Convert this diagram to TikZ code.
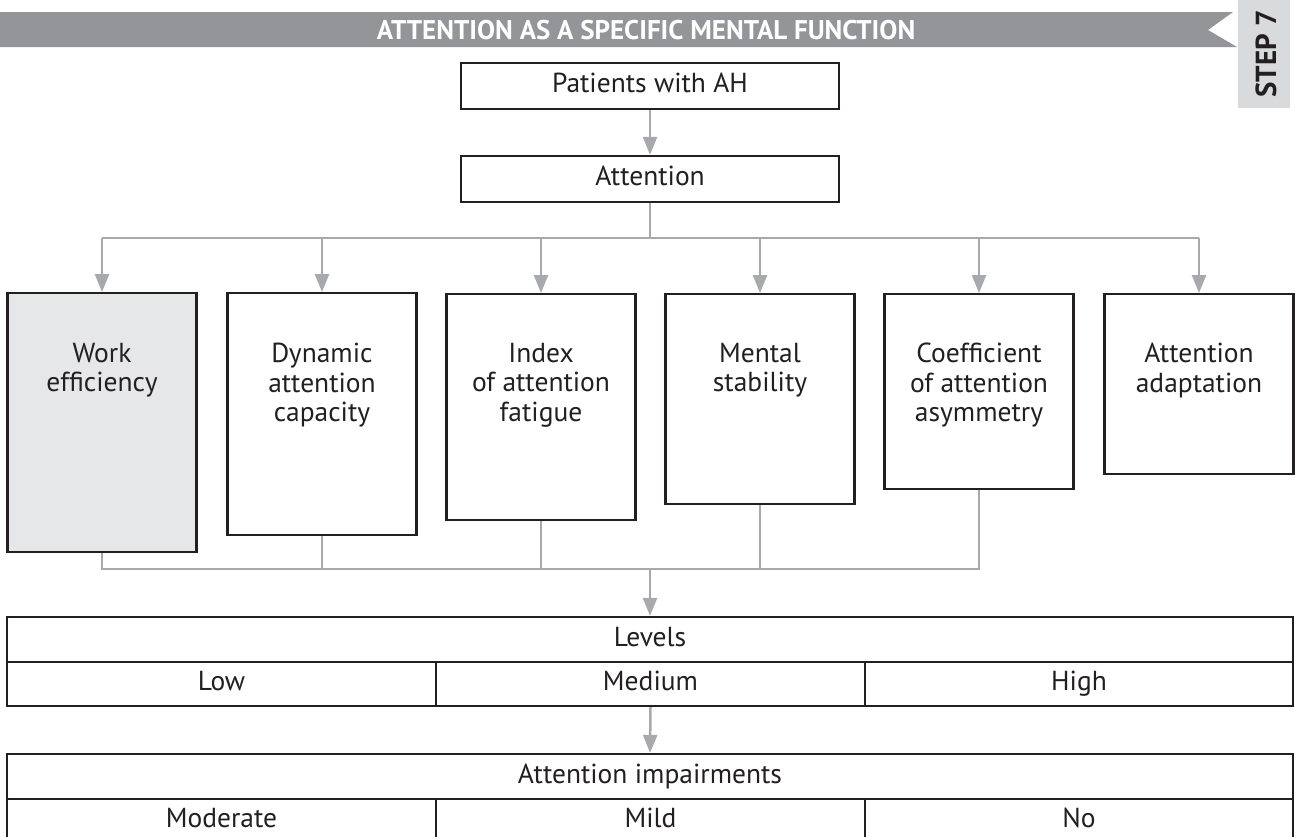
\documentclass[tikz,border=0pt]{standalone}
\usepackage{fontspec}
\setmainfont{PT Sans}
\usetikzlibrary{arrows.meta}

\definecolor{bargray}{HTML}{939598}
\definecolor{tabgray}{HTML}{D9DADB}
\definecolor{linegray}{HTML}{A7A9AC}
\definecolor{boxfill}{HTML}{E6E7E8}
\definecolor{ink}{HTML}{231F20}

\newcommand{\bodyfont}{\fontsize{27.5}{29.5}\selectfont}

\tikzset{
  box/.style={draw=ink, line width=2.2pt, minimum width=189pt, inner sep=0pt, anchor=north},
  boxtext/.style={text=ink, font=\bodyfont, align=center, anchor=north, inner sep=0pt},
  conn/.style={draw=linegray, line width=2.5pt},
  arr/.style={conn, -{Triangle[width=14pt,length=18pt]}},
  cell/.style={draw=ink, line width=2.2pt, inner sep=0pt, text=ink,
    font=\bodyfont, text height=19pt, text depth=6pt},
  topbox/.style={draw=ink, line width=2.2pt, minimum width=378pt, minimum height=46pt,
    inner sep=0pt, text=ink, font=\bodyfont, text height=19pt, text depth=6pt},
}

\begin{document}
\begin{tikzpicture}[x=1pt,y=-1pt]
  \path[use as bounding box] (0,0) rectangle (1295,836);
  \clip (0,0) rectangle (1295,836);

  % title bar with notched right end
  \fill[bargray] (0,12) -- (1233,12) -- (1208,30) -- (1237,47) -- (0,47) -- cycle;
  \node[text=white, font=\bfseries\fontsize{27}{27}\selectfont] (title) at (646,30)
    {ATTENTION AS A SPECIFIC MENTAL FUNCTION};

  % step tab
  \fill[tabgray] (1238,0) rectangle (1290,108);
  \node[rotate=90, text=ink, font=\bfseries\fontsize{29}{29}\selectfont] (step) at (1266,54) {STEP 7};

  % top chain
  \node[topbox] (pat) at (650,86) {Patients with AH};
  \node[topbox] (att) at (650,179) {Attention};
  \draw[arr] (pat) -- (att);

  % indicator boxes
  \node[box, fill=boxfill, minimum height=259pt] (b1) at (102,292) {};
  \node[box, minimum height=242pt] (b2) at (322,292) {};
  \node[box, minimum height=226pt] (b3) at (541,293) {};
  \node[box, minimum height=210pt] (b4) at (760,293) {};
  \node[box, minimum height=195pt] (b5) at (979,293) {};
  \node[box, minimum height=180pt] (b6) at (1199,293) {};

  \node[boxtext] (t1) at (102,343) {Work\\efficiency};
  \node[boxtext] (t2) at (322,343) {Dynamic\\attention\\capacity};
  \node[boxtext] (t3) at (541,343) {Index\\of attention\\fatigue};
  \node[boxtext] (t4) at (760,343) {Mental\\stability};
  \node[boxtext] (t5) at (979,343) {Coefficient\\of attention\\asymmetry};
  \node[boxtext] (t6) at (1199,343) {Attention\\adaptation};

  % distribution bus
  \coordinate (busT) at (650,238);
  \draw[conn] (att.south) -- (busT);
  \draw[conn] (b1.north |- busT) -- (b6.north |- busT);
  \foreach \b in {b1,b2,b3,b4,b5,b6}
    \draw[arr] (\b.north |- busT) -- (\b.north);

  % collecting bus
  \coordinate (busB) at (650,569);
  \draw[conn] (b1.south) -- (b1.south |- busB) -- (b5.south |- busB) -- (b5.south);
  \foreach \b in {b2,b3,b4}
    \draw[conn] (\b.south) -- (\b.south |- busB);

  % levels table
  \node[cell, minimum width=1286pt, minimum height=45pt] (lev) at (650,639.5) {Levels};
  \node[cell, minimum width=429pt, minimum height=44pt] (low) at (221.5,684) {Low};
  \node[cell, minimum width=429pt, minimum height=44pt] (med) at (650.5,684) {Medium};
  \node[cell, minimum width=428pt, minimum height=44pt] (high) at (1079,684) {High};
  \draw[arr] (busB) -- (lev.north);

  % impairments table
  \node[cell, minimum width=1286pt, minimum height=45pt] (imp) at (650,776.5) {Attention impairments};
  \node[cell, minimum width=429pt, minimum height=44pt] (mod) at (221.5,821) {Moderate};
  \node[cell, minimum width=429pt, minimum height=44pt] (mild) at (650.5,821) {Mild};
  \node[cell, minimum width=428pt, minimum height=44pt] (no) at (1079,821) {No};
  \draw[arr] (med.south) -- (imp.north);
\end{tikzpicture}
\end{document}
